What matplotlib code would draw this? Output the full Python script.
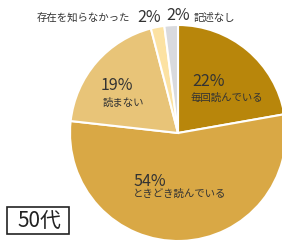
import matplotlib
matplotlib.use("Agg")
import matplotlib.pyplot as plt
from matplotlib.patches import Rectangle

plt.rcParams['font.family'] = ['Noto Sans CJK JP', 'DejaVu Sans']

# データ (時計回り、上から)
labels = ["毎回読んでいる", "ときどき読んでいる", "読まない", "存在を知らなかった", "記述なし"]
values = [22, 54, 19, 2, 2]
pct_text = ["22%", "54%", "19%", "2%", "2%"]
colors = ["#B8860B", "#D9A845", "#E8C478", "#FCE2A2", "#D9DADE"]

fig = plt.figure(figsize=(2.82, 2.43), dpi=100)
ax = fig.add_axes([70 / 282, 2 / 243, 216 / 282, 216 / 243])
ax.pie(values, colors=colors, startangle=90, counterclock=False,
       wedgeprops=dict(edgecolor="white", linewidth=1.5))
ax.set_xlim(-1, 1)
ax.set_ylim(-1, 1)
ax.set_aspect("equal")
for p in ax.patches:
    p.set_clip_on(False)

def fx(px):
    return px / 282

def fy(py):
    return 1 - py / 243

txt = "#333333"
fig.text(fx(192), fy(82), pct_text[0], fontsize=11.5, color=txt, va="center")
fig.text(fx(191), fy(98), labels[0], fontsize=7.5, color=txt, va="center")
fig.text(fx(101), fy(86), pct_text[2], fontsize=11.5, color=txt, va="center")
fig.text(fx(103), fy(103), labels[2], fontsize=7.5, color=txt, va="center")
fig.text(fx(133), fy(181), pct_text[1], fontsize=11.5, color=txt, va="center")
fig.text(fx(133), fy(194), labels[1], fontsize=7.5, color=txt, va="center")
fig.text(fx(37), fy(18), labels[3], fontsize=7.5, color=txt, va="center")
fig.text(fx(137), fy(17), pct_text[3], fontsize=11.5, color=txt, va="center")
fig.text(fx(166), fy(16), pct_text[4], fontsize=11.5, color=txt, va="center")
fig.text(fx(194), fy(18), labels[4], fontsize=7.5, color=txt, va="center")

# 年代ラベルの枠
fig.patches.append(Rectangle((fx(7), fy(234)), 62 / 282, 27 / 243, transform=fig.transFigure,
                             facecolor="white", edgecolor="#222222", linewidth=1.2))
fig.text(fx(39), fy(221), "50代", fontsize=15, color="#222222", ha="center", va="center")

fig.savefig("out.png", dpi=100)
